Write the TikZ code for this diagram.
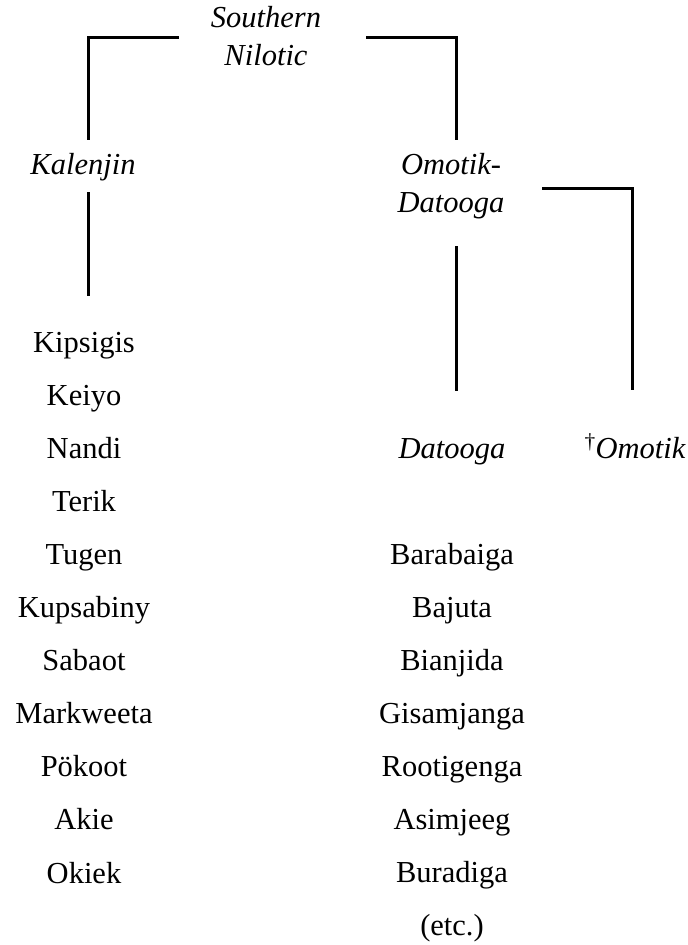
\documentclass[tikz,border=0pt]{standalone}
\usepackage{fontspec}
\setmainfont{Liberation Serif}
\tikzset{
  every node/.style={inner sep=0pt, outer sep=0pt, anchor=base},
  lang/.style={font=\fontsize{30.5}{38}\selectfont},
  grp/.style={font=\fontsize{30.5}{38}\selectfont\itshape, align=center},
  link/.style={line width=3pt, line join=miter, line cap=rect},
}
\begin{document}
\begin{tikzpicture}[x=1pt, y=-1pt]
\useasboundingbox (0,0) rectangle (688,945);

% group labels (two-line labels sit on the baseline of their last line)
\node[grp] (sn)  at (266,65)  {Southern\\Nilotic};
\node[grp] (kal) at (83,174)  {Kalenjin};
\node[grp] (od)  at (451,212) {Omotik-\\Datooga};
\node[grp] (dat) at (452,458) {Datooga};
\node[grp] (omo) at (635,458) {{\upshape\textsuperscript{†}}Omotik};

% Kalenjin languages
\foreach \name [count=\i] in {Kipsigis,Keiyo,Nandi,Terik,Tugen,Kupsabiny,Sabaot,Markweeta,Pökoot,Akie,Okiek}
  \node[lang] (k\i) at (84,{352+53.1*(\i-1)}) {\name};

% Datooga varieties
\foreach \name [count=\i] in {Barabaiga,Bajuta,Bianjida,Gisamjanga,Rootigenga,Asimjeeg,Buradiga,(etc.)}
  \node[lang] (d\i) at (452,{564+53.1*(\i-1)}) {\name};

% connector end points
\coordinate (snL)  at (177,37);
\coordinate (snR)  at (367,37);
\coordinate (kalT) at (88,138);
\coordinate (odT)  at (456,138);
\coordinate (kalB) at (88,193);
\coordinate (k1T)  at (88,294);
\coordinate (odB)  at (456,247);
\coordinate (datT) at (456,389);
\coordinate (odR)  at (543,188);
\coordinate (omoT) at (632,388);

% branches
\draw[link] (snL) -| (kalT);
\draw[link] (snR) -| (odT);
\draw[link] (kalB) -- (k1T);
\draw[link] (odB) -- (datT);
\draw[link] (odR) -| (omoT);
\end{tikzpicture}
\end{document}
